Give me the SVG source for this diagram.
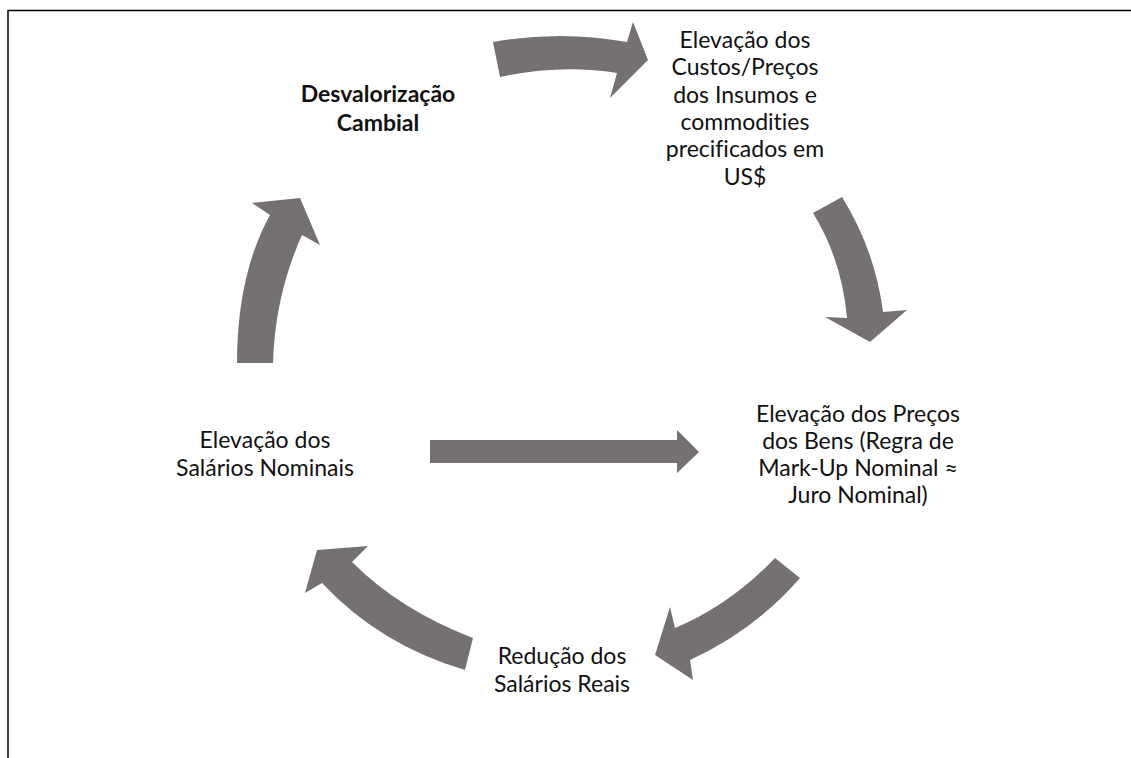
<svg xmlns="http://www.w3.org/2000/svg" width="1131" height="758" viewBox="0 0 1131 758">
<style>
.arr{fill:#767171;}
.t{font-family:Lato,"Open Sans","Liberation Sans",sans-serif;font-size:23px;fill:#111;text-anchor:middle;font-variant-ligatures:none;}
.b{font-weight:bold;}
.frame{stroke:#000;stroke-width:1.5;fill:none;}
</style>
<rect width="1131" height="758" fill="#fff"/>
<path class="frame" d="M8,758 V10.5 H1131"/>
<g id="connectors">
<path class="arr" d="M493,42 Q560,30 627,42 L633,22 L648,60 L610,98 L617,73 Q560,64 500,77 Z"/>
<path class="arr" d="M842,197 Q875,250 883,312 L907,310 L870,342 L825,317 L847,318 Q842,260 813,213 Z"/>
<path class="arr" d="M775,558 Q730,605 675,628 L670,607 L655,655 L693,680 L690,660 Q755,630 800,578 Z"/>
<path class="arr" d="M473,638 Q400,610 352,562 L368,546 L317,550 L305,593 L322,583 Q380,645 465,670 Z"/>
<path class="arr" d="M237,363 Q237,275 270,215 L252,203 L300,198 L320,245 L302,235 Q275,295 273,363 Z"/>
<path class="arr" d="M430,440 H677 V430 L699,452 L677,473 V463 H430 Z"/>
</g>
<g id="desvalorizacao">
<text class="t b" x="378" y="102">Desvalorização</text>
<text class="t b" x="378" y="131">Cambial</text>
</g>
<g id="custos">
<text class="t" x="745" y="48">Elevação dos</text>
<text class="t" x="745" y="75">Custos/Preços</text>
<text class="t" x="745" y="103">dos Insumos e</text>
<text class="t" x="745" y="130">commodities</text>
<text class="t" x="745" y="157">precificados em</text>
<text class="t" x="745" y="185">US$</text>
</g>
<g id="precos">
<text class="t" x="858" y="422">Elevação dos Preços</text>
<text class="t" x="858" y="449">dos Bens (Regra de</text>
<text class="t" x="858" y="476">Mark-Up Nominal ≈</text>
<text class="t" x="858" y="503">Juro Nominal)</text>
</g>
<g id="salarios-nominais">
<text class="t" x="265" y="448">Elevação dos</text>
<text class="t" x="265" y="476">Salários Nominais</text>
</g>
<g id="salarios-reais">
<text class="t" x="562" y="664">Redução dos</text>
<text class="t" x="562" y="692">Salários Reais</text>
</g>
</svg>
